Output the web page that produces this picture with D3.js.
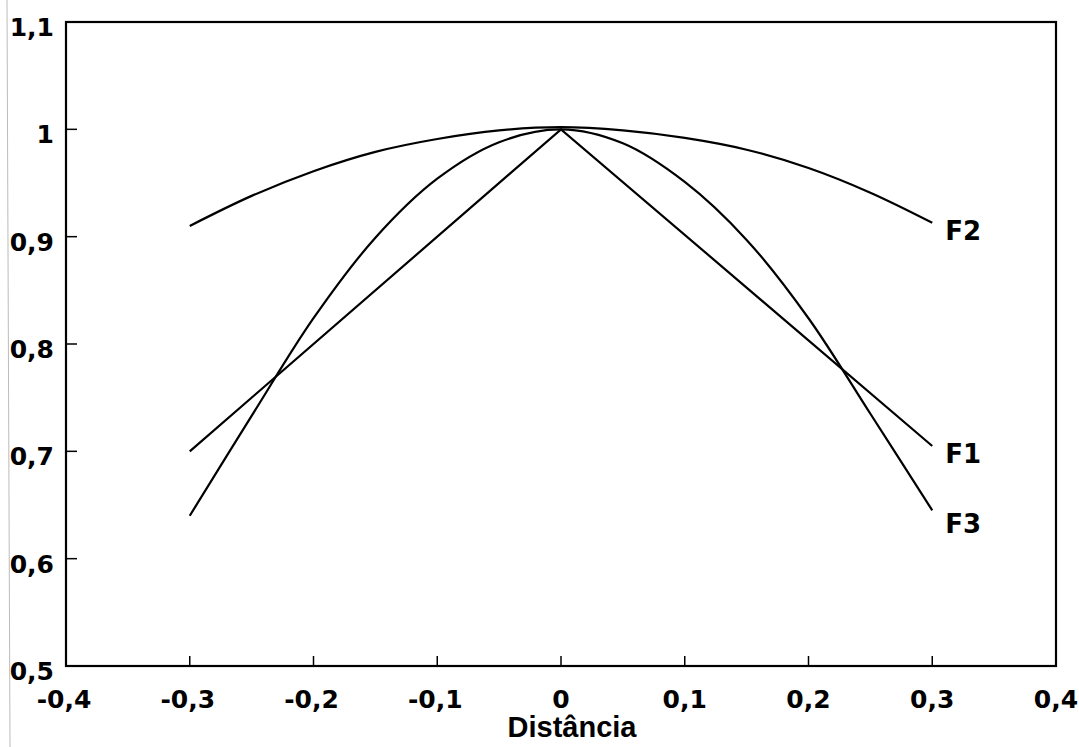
<!DOCTYPE html>
<html>
<head>
<meta charset="utf-8">
<script src="https://cdn.jsdelivr.net/npm/d3@7"></script>
<style>
  body { margin: 0; background: #fff; }
  .tick-label { font-family: "DejaVu Sans", sans-serif; font-weight: bold; font-size: 25px; fill: #000; }
  .curve-label { font-family: "DejaVu Sans", sans-serif; font-weight: bold; font-size: 26px; fill: #000; }
  .axis-title { font-family: "Liberation Sans", Arial, sans-serif; font-weight: bold; font-size: 29px; fill: #000; }
</style>
</head>
<body>
<div id="chart"></div>
<script>
// data
const xs = [-0.3, -0.25, -0.2, -0.15, -0.1, -0.05, 0, 0.05, 0.1, 0.15, 0.2, 0.25, 0.3];
const f2 = [0.910, 0.938, 0.961, 0.979, 0.991, 0.999, 1.002, 0.999, 0.992, 0.981, 0.964, 0.941, 0.913];
const f3 = [0.640, 0.733, 0.824, 0.899, 0.954, 0.988, 1.000, 0.987, 0.951, 0.897, 0.824, 0.735, 0.645];
const f1x = [-0.3, 0, 0.3];
const f1 = [0.700, 1.000, 0.705];

const xTicks = [-0.4, -0.3, -0.2, -0.1, 0, 0.1, 0.2, 0.3, 0.4];
const yTicks = [0.5, 0.6, 0.7, 0.8, 0.9, 1, 1.1];

const width = 1079, height = 747;
const plotL = 66, plotR = 1056, plotT = 22, plotB = 666;

const locale = d3.formatLocale({decimal: ",", thousands: ".", grouping: [3], currency: ["", ""]});
const fmt = locale.format("~g");

const x = d3.scaleLinear().domain([-0.4, 0.4]).range([plotL, plotR]);
const y = d3.scaleLinear().domain([0.5, 1.1]).range([plotB, plotT]);

const svg = d3.select("#chart").append("svg")
    .attr("width", width)
    .attr("height", height);

// faint scan line on the left edge
svg.append("line")
    .attr("x1", 7).attr("y1", 0).attr("x2", 10).attr("y2", height)
    .attr("stroke", "#bbb").attr("stroke-width", 1);

// frame
svg.append("rect")
    .attr("x", plotL).attr("y", plotT)
    .attr("width", plotR - plotL).attr("height", plotB - plotT)
    .attr("fill", "none").attr("stroke", "#000").attr("stroke-width", 2.2);

// y ticks (inside) + labels
svg.selectAll("line.ytick")
    .data(yTicks.filter(d => d > 0.5 && d < 1.1))
    .join("line")
    .attr("class", "ytick")
    .attr("x1", plotL).attr("x2", plotL + 11)
    .attr("y1", d => y(d)).attr("y2", d => y(d))
    .attr("stroke", "#000").attr("stroke-width", 1.5);

svg.selectAll("text.ylab")
    .data(yTicks)
    .join("text")
    .attr("class", "tick-label ylab")
    .attr("x", 54)
    .attr("y", d => y(d) + 14)
    .attr("text-anchor", "end")
    .text(d => fmt(d));

// x ticks (inside) + labels
svg.selectAll("line.xtick")
    .data(xTicks.filter(d => d > -0.4 && d < 0.4))
    .join("line")
    .attr("class", "xtick")
    .attr("x1", d => x(d)).attr("x2", d => x(d))
    .attr("y1", plotB).attr("y2", plotB - 10)
    .attr("stroke", "#000").attr("stroke-width", 1.5);

svg.selectAll("text.xlab")
    .data(xTicks)
    .join("text")
    .attr("class", "tick-label xlab")
    .attr("x", d => x(d) - (d < 0 ? 2 : 0))
    .attr("y", plotB + 42)
    .attr("text-anchor", "middle")
    .text(d => d === 0 ? "0" : fmt(d).replace("\u2212", "-"));

svg.append("text")
    .attr("class", "axis-title")
    .attr("x", 572)
    .attr("y", 737)
    .attr("text-anchor", "middle")
    .text("Distância");

// curves
const smooth = d3.line()
    .x(d => x(d[0]))
    .y(d => y(d[1]))
    .curve(d3.curveCatmullRom.alpha(0.5));
const straight = d3.line()
    .x(d => x(d[0]))
    .y(d => y(d[1]));

const series = [
  {name: "F2", pts: xs.map((v, i) => [v, f2[i]]), gen: smooth, ly: 0.913},
  {name: "F1", pts: f1x.map((v, i) => [v, f1[i]]), gen: straight, ly: 0.705},
  {name: "F3", pts: xs.map((v, i) => [v, f3[i]]), gen: smooth, ly: 0.640}
];

svg.selectAll("path.curve")
    .data(series)
    .join("path")
    .attr("class", "curve")
    .attr("fill", "none")
    .attr("stroke", "#000")
    .attr("stroke-width", 2.2)
    .attr("d", d => d.gen(d.pts));

svg.selectAll("text.clab")
    .data(series)
    .join("text")
    .attr("class", "curve-label clab")
    .attr("x", x(0.3) + 13)
    .attr("y", d => y(d.ly) + 17)
    .text(d => d.name);
</script>
</body>
</html>
